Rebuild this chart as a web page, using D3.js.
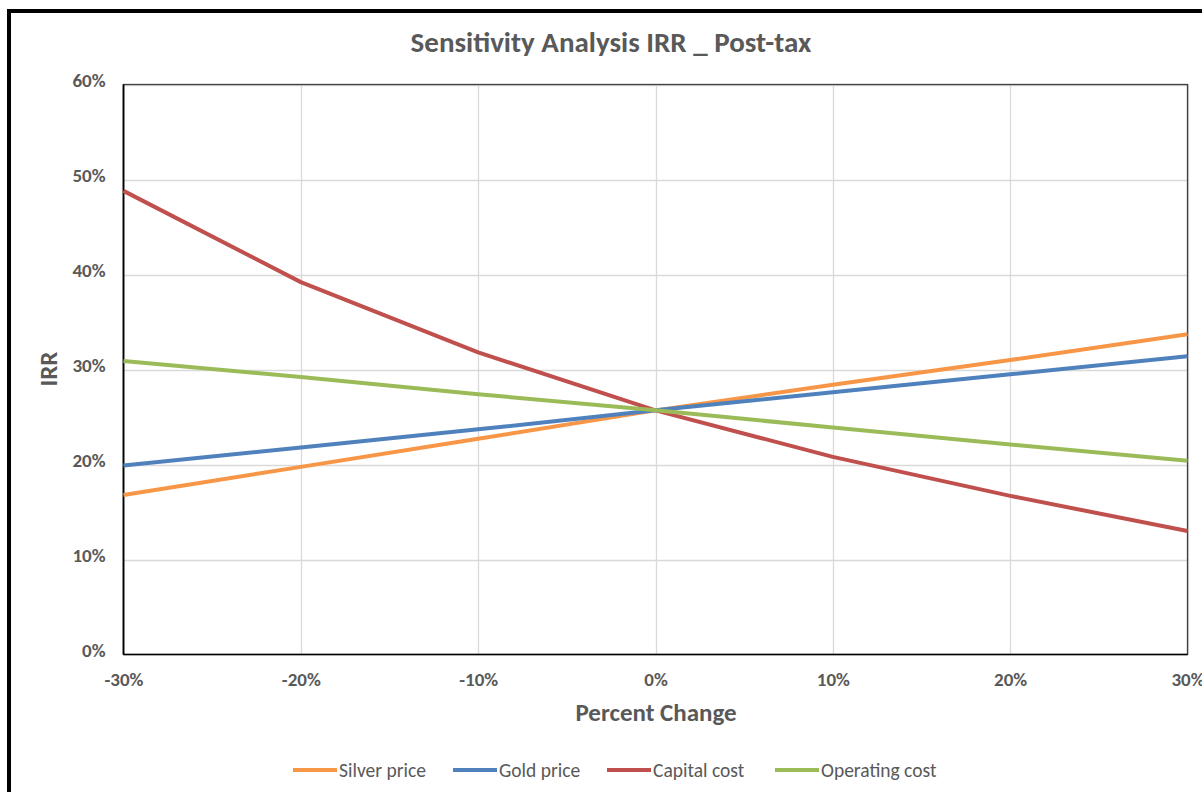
<!DOCTYPE html>
<html><head><meta charset="utf-8">
<script src="https://cdn.jsdelivr.net/npm/d3@7"></script>
<style>
html,body{margin:0;padding:0;background:#fff;}
svg{display:block;font-family:Carlito,Lato,"Open Sans",sans-serif;}
</style></head>
<body>
<svg id="c" width="1202" height="792"></svg>
<script>
const changes = [-30, -20, -10, 0, 10, 20, 30];
const silverPrice = [16.8, 19.75, 22.7, 25.7, 28.4, 31.0, 33.7];
const goldPrice = [19.9, 21.8, 23.7, 25.7, 27.6, 29.5, 31.4];
const capitalCost = [48.8, 39.2, 31.8, 25.7, 20.8, 16.7, 13.0];
const operatingCost = [30.9, 29.2, 27.4, 25.7, 23.9, 22.1, 20.4];
const seriesNames = ["Silver price", "Gold price", "Capital cost", "Operating cost"];
const seriesValues = [silverPrice, goldPrice, capitalCost, operatingCost];
const colors = ["#F79646", "#4F81BD", "#C0504D", "#9BBB59"];
const yTicks = [0, 10, 20, 30, 40, 50, 60];
const xTicks = [-30, -20, -10, 0, 10, 20, 30];

const svg = d3.select("#c");
const W = 1202, H = 792;
const L = 123.5, R = 1187.5, T = 84.5, B = 654.5;
const x = d3.scaleLinear().domain([-30, 30]).range([L, R]);
const y = d3.scaleLinear().domain([0, 60]).range([B, T]);
const textCol = "#595959";

svg.append("rect").attr("x", 0).attr("y", 0).attr("width", W).attr("height", H).attr("fill", "#fff");
// outer border
svg.append("path").attr("d", `M9,${H+5} L9,11 L${W+5},11`).attr("fill", "none").attr("stroke", "#000").attr("stroke-width", 4);

// gridlines
const g = svg.append("g");
g.selectAll(".hg").data(yTicks.slice(1)).join("line")
  .attr("x1", L).attr("x2", R).attr("y1", d => Math.round(y(d)) + 0.5).attr("y2", d => Math.round(y(d)) + 0.5)
  .attr("stroke", "#d9d9d9").attr("stroke-width", 1.3);
g.selectAll(".vg").data(xTicks.slice(1)).join("line")
  .attr("y1", T).attr("y2", B).attr("x1", d => Math.round(x(d)) + 0.5).attr("x2", d => Math.round(x(d)) + 0.5)
  .attr("stroke", "#d9d9d9").attr("stroke-width", 1.3);

// plot border
svg.append("rect").attr("x", L).attr("y", T).attr("width", R - L).attr("height", B - T)
  .attr("fill", "none").attr("stroke", "#404040").attr("stroke-width", 1.3);
svg.append("line").attr("x1", L).attr("x2", L).attr("y1", T).attr("y2", B).attr("stroke", "#000").attr("stroke-width", 1.8);
svg.append("line").attr("x1", L).attr("x2", R).attr("y1", B).attr("y2", B).attr("stroke", "#000").attr("stroke-width", 1.5);

// axes labels via d3 axes
const yAxis = d3.axisLeft(y).tickValues(yTicks).tickFormat(d => d + "%").tickSize(0).tickPadding(18);
const ya = svg.append("g").attr("transform", `translate(${L},0)`).call(yAxis);
ya.select(".domain").remove();
ya.selectAll("text").attr("fill", textCol).attr("font-size", 19).attr("font-weight", "bold")
  .attr("font-family", "Carlito,Lato,sans-serif").attr("dy", "0.1em");

const xAxis = d3.axisBottom(x).tickValues(xTicks).tickFormat(d => d + "%").tickSize(0).tickPadding(25);
const xa = svg.append("g").attr("transform", `translate(0,${B})`).call(xAxis);
xa.select(".domain").remove();
xa.selectAll("text").attr("fill", textCol).attr("font-size", 19).attr("font-weight", "bold")
  .attr("font-family", "Carlito,Lato,sans-serif").attr("dy", "0.33em");

// lines
const line = d3.line().x((d, i) => x(changes[i])).y(d => y(d));
svg.append("g").selectAll("path").data(seriesValues).join("path")
  .attr("d", d => line(d)).attr("fill", "none")
  .attr("stroke", (d, i) => colors[i]).attr("stroke-width", 4).attr("stroke-linejoin", "round").attr("stroke-linecap", "butt");

// title
svg.append("text").attr("x", 611).attr("y", 52).attr("text-anchor", "middle")
  .attr("fill", textCol).attr("font-size", 29).attr("font-weight", "bold").text("Sensitivity Analysis IRR _ Post-tax");

// axis titles
svg.append("text").attr("transform", "translate(57,369) rotate(-90)").attr("text-anchor", "middle")
  .attr("fill", textCol).attr("font-size", 25).attr("font-weight", "bold").text("IRR");
svg.append("text").attr("x", 656).attr("y", 721).attr("text-anchor", "middle")
  .attr("fill", textCol).attr("font-size", 25).attr("font-weight", "bold").text("Percent Change");

// legend
const legX = [293, 453, 607, 775];
const lg = svg.append("g").selectAll("g").data(seriesNames).join("g")
  .attr("transform", (d, i) => `translate(${legX[i]},770)`);
lg.append("line").attr("x1", 0).attr("x2", 44).attr("y1", 0).attr("y2", 0)
  .attr("stroke", (d, i) => colors[i]).attr("stroke-width", 4);
lg.append("text").attr("x", 46).attr("y", 0).attr("dy", "0.35em").attr("fill", textCol)
  .attr("font-size", 19.5).text(d => d);
</script>
</body></html>
